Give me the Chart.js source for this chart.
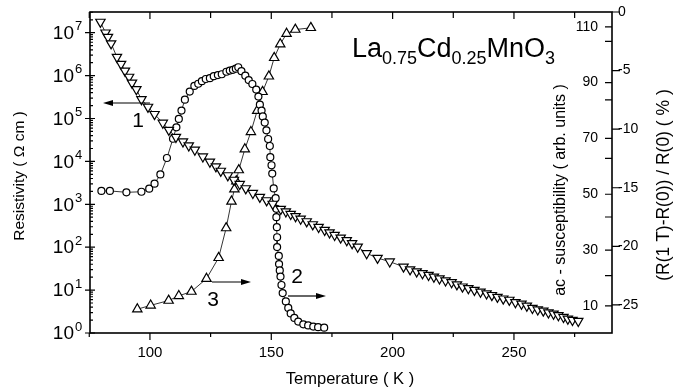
<!DOCTYPE html>
<html>
<head>
<meta charset="utf-8">
<script src="https://cdn.jsdelivr.net/npm/chart.js@4.4.1/dist/chart.umd.min.js"></script>
<style>
html, body { margin: 0; padding: 0; background: #fff; }
#wrap { width: 675px; height: 392px; position: relative; }
</style>
</head>
<body>
<div id="wrap"><canvas id="chart"></canvas></div>
<script>
// == data ==
// curve 1: resistivity (Ohm cm) vs T
const tempRho = [79.6, 81.7, 82.7, 84.0, 86.4, 88.1, 89.7, 91.4, 92.6, 94.4, 96.5, 99.2, 101.9, 105.3, 107.8, 110.7,
  113.6, 116.0, 118.5, 121.8, 124.7, 127.2, 129.2, 132.1, 134.6, 137.0, 139.5, 142.4, 145.3, 148.1, 150.6, 153.9,
  156.0, 158.0, 160.0, 162.1, 164.6, 167.1, 169.5, 172.0, 174.0, 176.1, 178.6, 181.1, 183.3, 185.6, 189.3, 193.8,
  198.8, 204.5, 207.2, 209.9, 212.3, 214.8, 217.0, 219.3, 221.8, 224.3, 226.5, 228.8, 231.2, 233.7, 236.2, 238.7,
  240.9, 243.2, 245.6, 248.1, 250.6, 253.1, 255.3, 257.6, 259.8, 262.1, 264.2, 266.3, 268.3, 270.4, 272.2, 274.1,
  276.5];
const rhoVals = [1.78e7, 1.0e7, 7.9e6, 5.6e6, 2.7e6, 1.86e6, 1.29e6, 9.3e5, 6.8e5, 4.8e5, 2.8e5, 1.86e5, 1.26e5, 7.9e4, 5.4e4, 3.7e4,
  2.9e4, 2.34e4, 1.86e4, 1.29e4, 9.8e3, 7.6e3, 6.0e3, 4.7e3, 3.7e3, 2.95e3, 2.34e3, 1.82e3, 1.48e3, 1.23e3, 1.02e3, 776,
  676, 589, 525, 457, 398, 339, 295, 251, 219, 191, 166, 145, 123, 102, 72, 56,
  46, 35, 30.2, 27, 24.5, 22.4, 20.4, 18.6, 16.6, 15.1, 13.5, 12.0, 11.0, 10.0, 9.1, 8.3,
  7.6, 6.9, 6.3, 5.9, 5.2, 4.8, 4.3, 3.8, 3.5, 3.3, 3.0, 2.8, 2.57, 2.34, 2.14, 2.0,
  1.9];

// curve 2: ac-susceptibility (arb. units) vs T
const tempChi = [80.0, 83.5, 90.3, 96.5, 99.7, 101.9, 104.3, 107.0, 109.5, 110.9, 111.9, 113.0, 114.4, 116.4, 118.3, 119.9,
  121.4, 123.0, 124.7, 126.3, 128.0, 129.6, 131.5, 132.9, 134.2, 135.4, 136.4, 137.7, 139.3, 140.7, 142.2, 143.8,
  144.7, 145.3, 146.0, 146.5, 147.3, 148.0, 148.7, 149.4, 149.6, 150.1, 150.4, 151.0, 151.8, 152.1, 152.1, 152.3,
  152.4, 152.4, 153.1, 153.2, 153.5, 153.8, 154.2, 154.7, 156.0, 157.0, 158.0, 159.5, 161.1, 163.2, 165.2, 167.3,
  169.3, 171.8];
const chiVals = [51.2, 51.2, 50.7, 50.9, 52.0, 53.8, 57.1, 63.0, 69.9, 74.0, 77.0, 80.0, 83.9, 86.8, 88.8, 89.6,
  90.5, 91.3, 91.6, 92.3, 92.7, 93.0, 93.9, 94.3, 94.6, 95.0, 95.5, 94.1, 92.5, 90.9, 89.5, 87.5,
  85.0, 82.1, 80.0, 77.9, 75.7, 72.9, 69.8, 67.3, 63.3, 60.4, 57.4, 52.1, 48.6, 44.8, 41.8, 38.2,
  34.6, 31.1, 27.9, 25.0, 22.7, 20.5, 17.5, 14.6, 11.6, 9.3, 7.3, 5.7, 4.4, 3.4, 3.0, 2.6,
  2.4, 2.2];

// curve 3: magnetoresistance (R(1T)-R(0))/R(0) in % vs T
const tempMR = [94.8, 100.3, 107.7, 111.9, 117.1, 123.3, 128.3, 131.4, 133.6, 134.8, 135.6, 136.6, 139.1, 141.6, 144.2, 146.4,
  149.0, 151.2, 153.7, 156.3, 159.9, 166.3];
const mrVals = [-25.37, -25.04, -24.63, -24.23, -23.86, -22.76, -20.98, -18.44, -16.17, -15.13, -14.44, -13.49, -11.71, -10.23, -8.42, -6.81,
  -5.49, -3.91, -2.75, -1.85, -1.50, -1.35];

// axes ticks
const xTicks = [100, 150, 200, 250];
const xMinor = [75, 125, 175, 225, 275];
const rhoDecades = [0, 1, 2, 3, 4, 5, 6, 7];
const chiTicks = [10, 30, 50, 70, 90, 110];
const pctTicks = [0, -5, -10, -15, -20, -25];
const pctMinor = [-2.5, -7.5, -12.5, -17.5, -22.5];

const FONT = '"Liberation Sans", Arial, Helvetica, sans-serif';

function pts(xs, ys) {
  return xs.map((x, i) => ({ x: x, y: ys[i] }));
}

function arrow(ctx, x1, y1, x2, y2) {
  const dir = Math.sign(x2 - x1);
  ctx.beginPath();
  ctx.moveTo(x1, y1);
  ctx.lineTo(x2 - dir * 6, y2);
  ctx.stroke();
  ctx.beginPath();
  ctx.moveTo(x2, y2);
  ctx.lineTo(x2 - dir * 10, y2 - 3);
  ctx.lineTo(x2 - dir * 10, y2 + 3);
  ctx.closePath();
  ctx.fill();
}

function rotText(ctx, txt, x, y, size) {
  ctx.save();
  ctx.translate(x, y);
  ctx.rotate(-Math.PI / 2);
  ctx.font = size + 'px ' + FONT;
  ctx.textAlign = 'center';
  ctx.textBaseline = 'middle';
  ctx.fillText(txt, 0, 0);
  ctx.restore();
}

// frame, ticks, labels and annotations
const decor = {
  id: 'decor',
  afterDraw(chart) {
    const ctx = chart.ctx;
    const a = chart.chartArea;
    const sx = chart.scales.x, sy = chart.scales.y, sc = chart.scales.chi, sp = chart.scales.pct;
    ctx.save();
    ctx.strokeStyle = '#000';
    ctx.fillStyle = '#000';

    ctx.lineWidth = 1.6;
    ctx.strokeRect(a.left, a.top, a.right - a.left, a.bottom - a.top);

    ctx.lineWidth = 1.2;
    ctx.beginPath();
    // x ticks
    xTicks.forEach(v => {
      const x = sx.getPixelForValue(v);
      ctx.moveTo(x, a.bottom); ctx.lineTo(x, a.bottom + 7);
      ctx.moveTo(x, a.top); ctx.lineTo(x, a.top + 7);
    });
    xMinor.forEach(v => {
      const x = sx.getPixelForValue(v);
      ctx.moveTo(x, a.bottom); ctx.lineTo(x, a.bottom + 4);
      ctx.moveTo(x, a.top); ctx.lineTo(x, a.top + 6);
    });
    // log ticks
    rhoDecades.forEach(d => {
      const y = sy.getPixelForValue(Math.pow(10, d));
      ctx.moveTo(a.left - 5, y); ctx.lineTo(a.left + 5, y);
      for (let m = 2; m <= 9; m++) {
        const v = m * Math.pow(10, d);
        if (v > sy.max) break;
        const ym = sy.getPixelForValue(v);
        ctx.moveTo(a.left, ym); ctx.lineTo(a.left + 3, ym);
      }
    });
    // right side
    chiTicks.forEach(v => {
      const y = sc.getPixelForValue(v);
      ctx.moveTo(a.right, y); ctx.lineTo(a.right - 7, y);
    });
    pctTicks.forEach(v => {
      const y = sp.getPixelForValue(v);
      ctx.moveTo(a.right, y); ctx.lineTo(a.right + 8, y);
    });
    pctMinor.forEach(v => {
      const y = sp.getPixelForValue(v);
      ctx.moveTo(a.right, y); ctx.lineTo(a.right - 7, y);
    });
    ctx.stroke();

    // tick labels
    ctx.font = '15px ' + FONT;
    ctx.textAlign = 'center';
    ctx.textBaseline = 'middle';
    xTicks.forEach(v => ctx.fillText(String(v), sx.getPixelForValue(v), 353));

    rhoDecades.forEach(d => {
      const y = sy.getPixelForValue(Math.pow(10, d));
      ctx.font = '19px ' + FONT;
      ctx.textAlign = 'right';
      ctx.fillText('10', 74, y + 1);
      ctx.font = '13px ' + FONT;
      ctx.textAlign = 'left';
      ctx.fillText(String(d), 75, y - 6);
    });

    ctx.font = '14px ' + FONT;
    ctx.textAlign = 'right';
    chiTicks.forEach(v => ctx.fillText(String(v), 598, sc.getPixelForValue(v)));
    ctx.textAlign = 'left';
    pctTicks.forEach(v => ctx.fillText(String(v), 618, sp.getPixelForValue(v)));

    // axis titles
    ctx.font = '16.5px ' + FONT;
    ctx.textAlign = 'center';
    ctx.fillText('Temperature ( K )', 350, 379);
    rotText(ctx, 'Resistivity ( \u03A9 cm )', 20, 176, 15.5);
    rotText(ctx, 'ac - susceptibility ( arb. units )', 561, 190, 16);
    rotText(ctx, '(R(1 T)-R(0)) / R(0) ( % )', 664, 185, 17.5);

    // compound label
    const parts = [['La', 0], ['0.75', 1], ['Cd', 0], ['0.25', 1], ['MnO', 0], ['3', 1]];
    let x = 352;
    ctx.textAlign = 'left';
    ctx.textBaseline = 'alphabetic';
    parts.forEach(([t, sub]) => {
      ctx.font = (sub ? '18px ' : '27px ') + FONT;
      ctx.fillText(t, x, sub ? 64 : 57);
      x += ctx.measureText(t).width;
    });

    // curve numbers and arrows
    ctx.font = '21px ' + FONT;
    ctx.textAlign = 'center';
    ctx.textBaseline = 'middle';
    ctx.fillText('1', 138, 121);
    ctx.fillText('3', 213, 300);
    ctx.fillText('2', 297, 277);
    ctx.lineWidth = 1.2;
    arrow(ctx, 150, 103, 103, 103);
    arrow(ctx, 212, 282, 251, 282);
    arrow(ctx, 288, 296, 326, 296);

    ctx.restore();
  }
};

const common = {
  showLine: true,
  borderColor: '#000',
  borderWidth: 0.8,
  pointBorderColor: '#000',
  pointBackgroundColor: '#fff',
  pointBorderWidth: 1.2,
  fill: false,
  tension: 0
};

new Chart(document.getElementById('chart'), {
  type: 'line',
  data: {
    datasets: [
      Object.assign({ label: 'Resistivity', data: pts(tempRho, rhoVals), yAxisID: 'y',
        pointStyle: 'triangle', pointRotation: 180, pointRadius: 5.4 }, common),
      Object.assign({ label: 'ac-susceptibility', data: pts(tempChi, chiVals), yAxisID: 'chi',
        pointStyle: 'circle', pointRadius: 3.5 }, common),
      Object.assign({ label: 'MR', data: pts(tempMR, mrVals), yAxisID: 'pct',
        pointStyle: 'triangle', pointRadius: 5.4 }, common)
    ]
  },
  options: {
    responsive: true,
    maintainAspectRatio: false,
    animation: false,
    events: [],
    layout: { padding: { left: 90, right: 63, top: 12, bottom: 59 } },
    plugins: { legend: { display: false }, tooltip: { enabled: false } },
    scales: {
      x: { type: 'linear', min: 75.3, max: 290.4, display: false },
      y: { type: 'logarithmic', min: 1, max: 3.04e7, display: false },
      chi: { type: 'linear', min: 0.3, max: 115.3, display: false },
      pct: { type: 'linear', min: -27.4, max: 0, display: false }
    }
  },
  plugins: [decor]
});
</script>
</body>
</html>
